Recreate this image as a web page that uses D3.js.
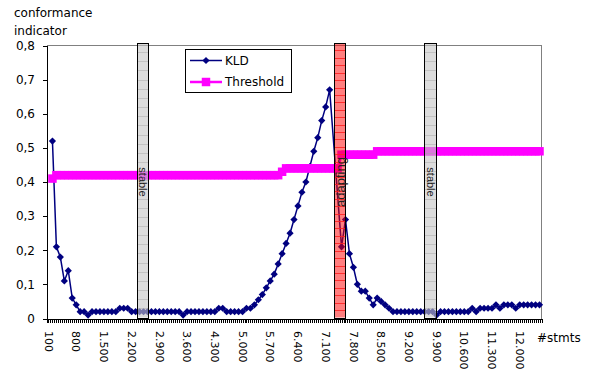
<!DOCTYPE html>
<html>
<head>
<meta charset="utf-8">
<script src="https://cdn.jsdelivr.net/npm/d3@7"></script>
<style>
  body { margin: 0; background: #fff; }
  svg { display: block; }
  text { font-family: "DejaVu Sans", sans-serif; font-size: 12px; fill: #000; }
</style>
</head>
<body>
<svg id="chart" width="593" height="376"></svg>
<script>
// Statement counts (one category every 100 statements)
const stmts = d3.range(200, 12501, 100);

// KLD conformance indicator per category (null = no measurement)
const kld = [
  0.52, 0.21, 0.18, 0.11, 0.14, 0.06, 0.04, 0.02, 0.02, 0.01,
  0.02, 0.02, 0.02, 0.02, 0.02, 0.02, 0.02, 0.03, 0.03, 0.03,
  0.02, 0.02, 0.02, 0.02, 0.02, 0.02, 0.02, 0.02, 0.02, 0.02,
  0.02, 0.02, 0.02, 0.01, 0.02, 0.02, 0.02, 0.02, 0.02, 0.02,
  0.02, 0.02, 0.03, 0.03, 0.02, 0.02, 0.02, 0.02, 0.02, 0.03,
  0.03, 0.04, 0.055, 0.07, 0.09, 0.11, 0.13, 0.16, 0.19, 0.22,
  0.25, 0.29, 0.33, 0.37, 0.40, 0.445, 0.49, 0.53, 0.58, 0.62,
  0.67, null, null, 0.21, 0.29, 0.19, 0.15, 0.10, 0.08, 0.08,
  0.06, 0.04, 0.06, 0.05, 0.04, 0.03, 0.02, 0.02, 0.02, 0.02,
  0.02, 0.02, 0.02, 0.02, 0.02, 0.02, 0.02, 0.01, 0.02, 0.02,
  0.02, 0.02, 0.02, 0.02, 0.02, 0.02, 0.03, 0.02, 0.03, 0.03,
  0.03, 0.03, 0.04, 0.03, 0.04, 0.04, 0.04, 0.03, 0.04, 0.04,
  0.04, 0.04, 0.04, 0.04
];

// Detection threshold per category
const threshold = [
  0.41, 0.42, 0.42, 0.42, 0.42, 0.42, 0.42, 0.42, 0.42, 0.42,
  0.42, 0.42, 0.42, 0.42, 0.42, 0.42, 0.42, 0.42, 0.42, 0.42,
  0.42, 0.42, 0.42, 0.42, 0.42, 0.42, 0.42, 0.42, 0.42, 0.42,
  0.42, 0.42, 0.42, 0.42, 0.42, 0.42, 0.42, 0.42, 0.42, 0.42,
  0.42, 0.42, 0.42, 0.42, 0.42, 0.42, 0.42, 0.42, 0.42, 0.42,
  0.42, 0.42, 0.42, 0.42, 0.42, 0.42, 0.42, 0.42, 0.43, 0.44,
  0.44, 0.44, 0.44, 0.44, 0.44, 0.44, 0.44, 0.44, 0.44, 0.44,
  0.44, 0.44, 0.44, 0.48, 0.48, 0.48, 0.48, 0.48, 0.48, 0.48,
  0.48, 0.48, 0.49, 0.49, 0.49, 0.49, 0.49, 0.49, 0.49, 0.49,
  0.49, 0.49, 0.49, 0.49, 0.49, 0.49, 0.49, 0.49, 0.49, 0.49,
  0.49, 0.49, 0.49, 0.49, 0.49, 0.49, 0.49, 0.49, 0.49, 0.49,
  0.49, 0.49, 0.49, 0.49, 0.49, 0.49, 0.49, 0.49, 0.49, 0.49,
  0.49, 0.49, 0.49, 0.49
];

// Axis ticks and labels
const xTickValues = [100, 800, 1500, 2200, 2900, 3600, 4300, 5000, 5700,
                     6400, 7100, 7800, 8500, 9200, 9900, 10600, 11300, 12000];
const xTickLabels = ["100", "800", "1.500", "2.200", "2.900", "3.600", "4.300",
                     "5.000", "5.700", "6.400", "7.100", "7.800", "8.500",
                     "9.200", "9.900", "10.600", "11.300", "12.000"];
const yTickValues = [0, 0.1, 0.2, 0.3, 0.4, 0.5, 0.6, 0.7, 0.8];
const yTickLabels = ["0", "0,1", "0,2", "0,3", "0,4", "0,5", "0,6", "0,7", "0,8"];

// Phase annotations (statement ranges)
const phaseLabels = ["stable", "adapting", "stable"];
const phaseFrom = [2340, 7310, 9590];
const phaseTo = [2620, 7600, 9880];

const seriesNames = ["KLD", "Threshold"];

const svg = d3.select("#chart");

const x = d3.scaleLinear().domain([50, 12550]).range([46.5, 541.5]);
const y = d3.scaleLinear().domain([0, 0.8]).range([318.5, 45.5]);

// Plot area frame (top and right edges)
svg.append("path")
  .attr("d", `M${x.range()[0]},${y(0.8)}H${x.range()[1]}V${y(0)}`)
  .attr("fill", "none").attr("stroke", "#808080").attr("shape-rendering", "crispEdges");

// Axes
const xAxis = svg.append("g")
  .attr("transform", `translate(0,${y(0)})`)
  .call(d3.axisBottom(x).tickValues(d3.range(50, 12551, 50)).tickSize(4).tickSizeOuter(0).tickFormat(""));
xAxis.selectAll("path,line").attr("shape-rendering", "crispEdges");

svg.append("g").selectAll("text")
  .data(xTickValues)
  .join("text")
  .attr("transform", d => `translate(${x(d)},331) rotate(90)`)
  .attr("dy", "0.35em")
  .attr("text-anchor", "start")
  .style("font-size", "11px")
  .text((d, i) => xTickLabels[i]);

const yAxis = svg.append("g")
  .attr("transform", `translate(${x.range()[0]},0)`)
  .call(d3.axisLeft(y).tickValues(yTickValues).tickSize(4).tickSizeOuter(0).tickPadding(7.5)
    .tickFormat((d, i) => yTickLabels[i]));
yAxis.selectAll("path,line").attr("shape-rendering", "crispEdges");
yAxis.selectAll("text").style("font-family", "DejaVu Sans").style("font-size", "12px");

// Axis titles
svg.append("text").attr("x", 14).attr("y", 17).text("conformance");
svg.append("text").attr("x", 14).attr("y", 35).text("indicator");
svg.append("text").attr("x", 537).attr("y", 342).text("#stmts");

// KLD series
const kldPts = stmts.map((s, i) => ({ s, v: kld[i] })).filter(d => d.v != null);
const line = d3.line().x(d => x(d.s)).y(d => y(d.v));
svg.append("path").datum(kldPts)
  .attr("d", line).attr("fill", "none").attr("stroke", "#000080").attr("stroke-width", 1.5);
const diamond = d3.symbol(d3.symbolSquare, 26);
svg.append("g").selectAll("path").data(kldPts).join("path")
  .attr("transform", d => `translate(${x(d.s)},${y(d.v)}) rotate(45)`)
  .attr("d", diamond).attr("fill", "#000080");

// Threshold series
const thrPts = stmts.map((s, i) => ({ s, v: threshold[i] }));
svg.append("path").datum(thrPts)
  .attr("d", line).attr("fill", "none").attr("stroke", "#ff00ff").attr("stroke-width", 3);
const square = d3.symbol(d3.symbolSquare, 72);
svg.append("g").selectAll("path").data(thrPts).join("path")
  .attr("transform", d => `translate(${x(d.s)},${y(d.v)})`)
  .attr("d", square).attr("fill", "#ff00ff");

// Phase bands, drawn translucent over the series
const bandTop = y(0.8) - 2.5, bandBottom = y(0) - 1;
phaseLabels.forEach((label, i) => {
  const adapting = label === "adapting";
  const x0 = Math.round(x(phaseFrom[i])) + 0.5, x1 = Math.round(x(phaseTo[i])) + 0.5;
  const g = svg.append("g");
  g.append("rect")
    .attr("x", x0).attr("y", bandTop).attr("width", x1 - x0).attr("height", bandBottom - bandTop)
    .attr("fill", adapting ? "#ff0000" : "#c4c4c4")
    .attr("fill-opacity", adapting ? 0.5 : 0.6);
  const n = adapting ? 37 : 30;
  const step = (bandBottom - bandTop) / n;
  g.selectAll("line").data(d3.range(1, n)).join("line")
    .attr("x1", x0).attr("x2", x1)
    .attr("y1", k => Math.round(bandTop + k * step) + 0.5)
    .attr("y2", k => Math.round(bandTop + k * step) + 0.5)
    .attr("stroke", adapting ? "#ff2020" : "#a8a8a8")
    .attr("stroke-opacity", adapting ? 0.85 : 0.5)
    .attr("stroke-width", 1);
  g.append("rect")
    .attr("x", x0).attr("y", Math.round(bandTop) + 0.5).attr("width", x1 - x0)
    .attr("height", Math.round(bandBottom - bandTop))
    .attr("fill", "none").attr("stroke", "#000").attr("stroke-width", 1);
  g.append("text")
    .attr("transform", `translate(${(x0 + x1) / 2},${y(0.4)}) rotate(${adapting ? -90 : 90})`)
    .attr("dy", "0.35em")
    .attr("text-anchor", "middle")
    .style("font-family", "Liberation Sans, Arial, sans-serif")
    .style("font-size", adapting ? "13px" : "11px")
    .style("fill", "#222")
    .text(label);
});

// Legend
const legend = svg.append("g");
legend.append("rect").attr("x", 185.5).attr("y", 49.5).attr("width", 106).attr("height", 43)
  .attr("fill", "#fff").attr("stroke", "#000");
const rows = [60.5, 82];
seriesNames.forEach((name, i) => {
  const ly = rows[i];
  const isKld = i === 0;
  legend.append("line").attr("x1", 190).attr("x2", 222).attr("y1", ly).attr("y2", ly)
    .attr("stroke", isKld ? "#000080" : "#ff00ff").attr("stroke-width", isKld ? 1.5 : 2.5);
  legend.append("path")
    .attr("transform", `translate(206,${ly})${isKld ? " rotate(45)" : ""}`)
    .attr("d", isKld ? diamond : square)
    .attr("fill", isKld ? "#000080" : "#ff00ff");
  legend.append("text").attr("x", 225).attr("y", ly).attr("dy", "0.35em").text(name);
});
</script>
</body>
</html>
